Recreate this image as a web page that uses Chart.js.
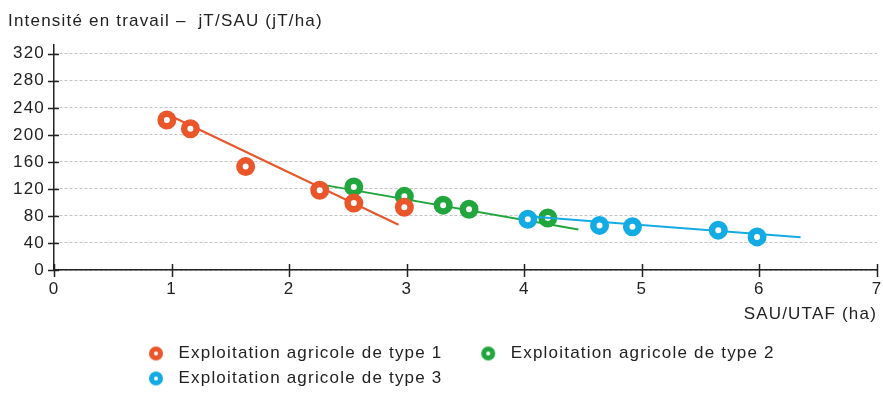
<!DOCTYPE html>
<html>
<head>
<meta charset="utf-8">
<script src="https://cdn.jsdelivr.net/npm/chart.js@4.4.1/dist/chart.umd.min.js"></script>
<style>
  html, body { margin: 0; padding: 0; background: #fff; }
  canvas { display: block; }
</style>
</head>
<body>
<canvas id="chart" width="883" height="393" style="width:883px;height:393px"></canvas>
<script>
// Labour intensity (jT/ha) against farm area per family worker (ha)
const seriesLabels = [
  'Exploitation agricole de type 1',
  'Exploitation agricole de type 2',
  'Exploitation agricole de type 3'
];
const seriesColors = ['#E8562A', '#21A63D', '#13ABE3'];

const type1X = [0.96, 1.16, 1.63, 2.26, 2.55, 2.98];
const type1Y = [222, 209, 153, 118, 99, 93];
const type2X = [2.55, 2.98, 3.31, 3.53, 4.20];
const type2Y = [123, 109, 96, 90, 77];
const type3X = [4.03, 4.64, 4.92, 5.65, 5.98];
const type3Y = [75, 66, 64, 59, 49];

// fitted trend lines (start and end)
const trend1X = [0.98, 2.93];
const trend1Y = [229, 67];
const trend2X = [2.29, 4.46];
const trend2Y = [126, 60];
const trend3X = [4.00, 6.35];
const trend3Y = [80, 48.5];

const yTicks = [0, 40, 80, 120, 160, 200, 240, 280, 320];
const xTicks = [0, 1, 2, 3, 4, 5, 6, 7];

const yTitle = 'Intensité en travail –  jT/SAU (jT/ha)';
const xTitle = 'SAU/UTAF (ha)';

const toPoints = (xs, ys) => xs.map((x, i) => ({ x, y: ys[i] }));

const FONT_SIZE = 17;
Chart.defaults.font.family = "'Liberation Sans', Arial, Helvetica, sans-serif";
Chart.defaults.font.size = FONT_SIZE;
Chart.defaults.color = '#222';

// small ring used as legend symbol
function ringSprite(color) {
  const c = document.createElement('canvas');
  c.width = 18; c.height = 18;
  const g = c.getContext('2d');
  g.beginPath();
  g.arc(9, 9, 4.5, 0, Math.PI * 2);
  g.fillStyle = '#fff';
  g.fill();
  g.lineWidth = 5;
  g.strokeStyle = color;
  g.stroke();
  return c;
}
const legendSprites = seriesColors.map(ringSprite);

const LETTER_SPACING = '1.2px';
const letterSpacing = {
  id: 'letterSpacing',
  beforeUpdate(chart) { chart.ctx.letterSpacing = LETTER_SPACING; },
  beforeDraw(chart) { chart.ctx.letterSpacing = LETTER_SPACING; }
};

// legend block sits under the plot, indented
const legendPlace = {
  id: 'legendPlace',
  afterLayout(chart) {
    const lg = chart.legend;
    lg.left = 134;
    lg.top += 4;
    lg.bottom += 4;
  }
};

// cross-shaped tick marks on both axes
const axisCrosses = {
  id: 'axisCrosses',
  beforeDatasetsDraw(chart) {
    const { ctx, chartArea, scales: { x, y } } = chart;
    const ax = chartArea.left, ay = chartArea.bottom;
    ctx.save();
    ctx.strokeStyle = '#222';
    ctx.lineWidth = 1.5;
    ctx.beginPath();
    y.ticks.forEach(t => {
      const py = Math.round(y.getPixelForValue(t.value)) + 0.5;
      ctx.moveTo(ax - 6, py);
      ctx.lineTo(ax + 5, py);
    });
    x.ticks.forEach(t => {
      const px = Math.round(x.getPixelForValue(t.value)) + 0.5;
      ctx.moveTo(px, ay - 6);
      ctx.lineTo(px, ay + 7);
    });
    ctx.stroke();
    ctx.restore();
  }
};

function markerSet(i, xs, ys, order) {
  return {
    label: seriesLabels[i],
    data: toPoints(xs, ys),
    showLine: false,
    borderColor: seriesColors[i],
    backgroundColor: '#fff',
    pointRadius: 6.25,
    pointHoverRadius: 6.25,
    pointBorderWidth: 6.5,
    borderWidth: 6.5,
    clip: false,
    order
  };
}
function trendSet(i, xs, ys, order) {
  return {
    label: seriesLabels[i] + ' (tendance)',
    trend: true,
    data: toPoints(xs, ys),
    showLine: true,
    borderColor: seriesColors[i],
    backgroundColor: seriesColors[i],
    borderWidth: 2,
    pointRadius: 0,
    pointHoverRadius: 0,
    tension: 0,
    order
  };
}

new Chart(document.getElementById('chart'), {
  type: 'scatter',
  data: {
    datasets: [
      markerSet(0, type1X, type1Y, 1),
      trendSet(0, trend1X, trend1Y, 2),
      markerSet(1, type2X, type2Y, 5),
      trendSet(1, trend2X, trend2Y, 6),
      markerSet(2, type3X, type3Y, 3),
      trendSet(2, trend3X, trend3Y, 4)
    ]
  },
  options: {
    responsive: false,
    devicePixelRatio: 1,
    animation: false,
    events: [],
    layout: { autoPadding: false, padding: { left: 8, right: 6, top: 0, bottom: 0 } },
    scales: {
      x: {
        type: 'linear',
        position: 'bottom',
        min: 0,
        max: 7,
        afterBuildTicks(s) { s.ticks = xTicks.map(v => ({ value: v })); },
        afterFit(s) { s.height = 63; },
        grid: {
          display: true,
          drawOnChartArea: false,
          drawTicks: true,
          tickLength: 9,
          tickColor: 'rgba(0,0,0,0)'
        },
        border: { display: true, color: '#222', width: 1.5 },
        ticks: { padding: 0, color: '#222' },
        title: {
          display: true,
          text: xTitle,
          align: 'end',
          color: '#222',
          font: { size: FONT_SIZE },
          padding: { top: 0, bottom: 8.8 }
        }
      },
      y: {
        type: 'linear',
        min: 0,
        max: 333,
        afterBuildTicks(s) { s.ticks = yTicks.map(v => ({ value: v })); },
        afterFit(s) { s.width = 46; },
        grid: { color: '#c4c4c4', lineWidth: 1, drawTicks: false },
        border: { display: true, color: '#222', width: 1.5, dash: [3, 2] },
        ticks: { padding: 9, color: '#222' }
      }
    },
    plugins: {
      tooltip: { enabled: false },
      title: {
        display: true,
        text: yTitle,
        align: 'start',
        color: '#222',
        font: { size: FONT_SIZE, weight: 'normal' },
        padding: { top: 10.8, bottom: 13.8 }
      },
      legend: {
        position: 'bottom',
        align: 'start',
        fullSize: false,
        labels: {
          usePointStyle: true,
          pointStyleWidth: 28,
          boxHeight: 6,
          padding: 8,
          color: '#222',
          font: { size: FONT_SIZE },
          filter: (item, data) => !data.datasets[item.datasetIndex].trend,
          generateLabels(chart) {
            const base = Chart.defaults.plugins.legend.labels.generateLabels(chart);
            return base
              .sort((a, b) => a.datasetIndex - b.datasetIndex)
              .map(item => {
                const idx = seriesLabels.indexOf(chart.data.datasets[item.datasetIndex].label);
                return Object.assign({}, item, {
                  text: item.text + '    ',
                  pointStyle: idx >= 0 ? legendSprites[idx] : item.pointStyle
                });
              });
          }
        }
      }
    }
  },
  plugins: [letterSpacing, legendPlace, axisCrosses]
});
</script>
</body>
</html>
